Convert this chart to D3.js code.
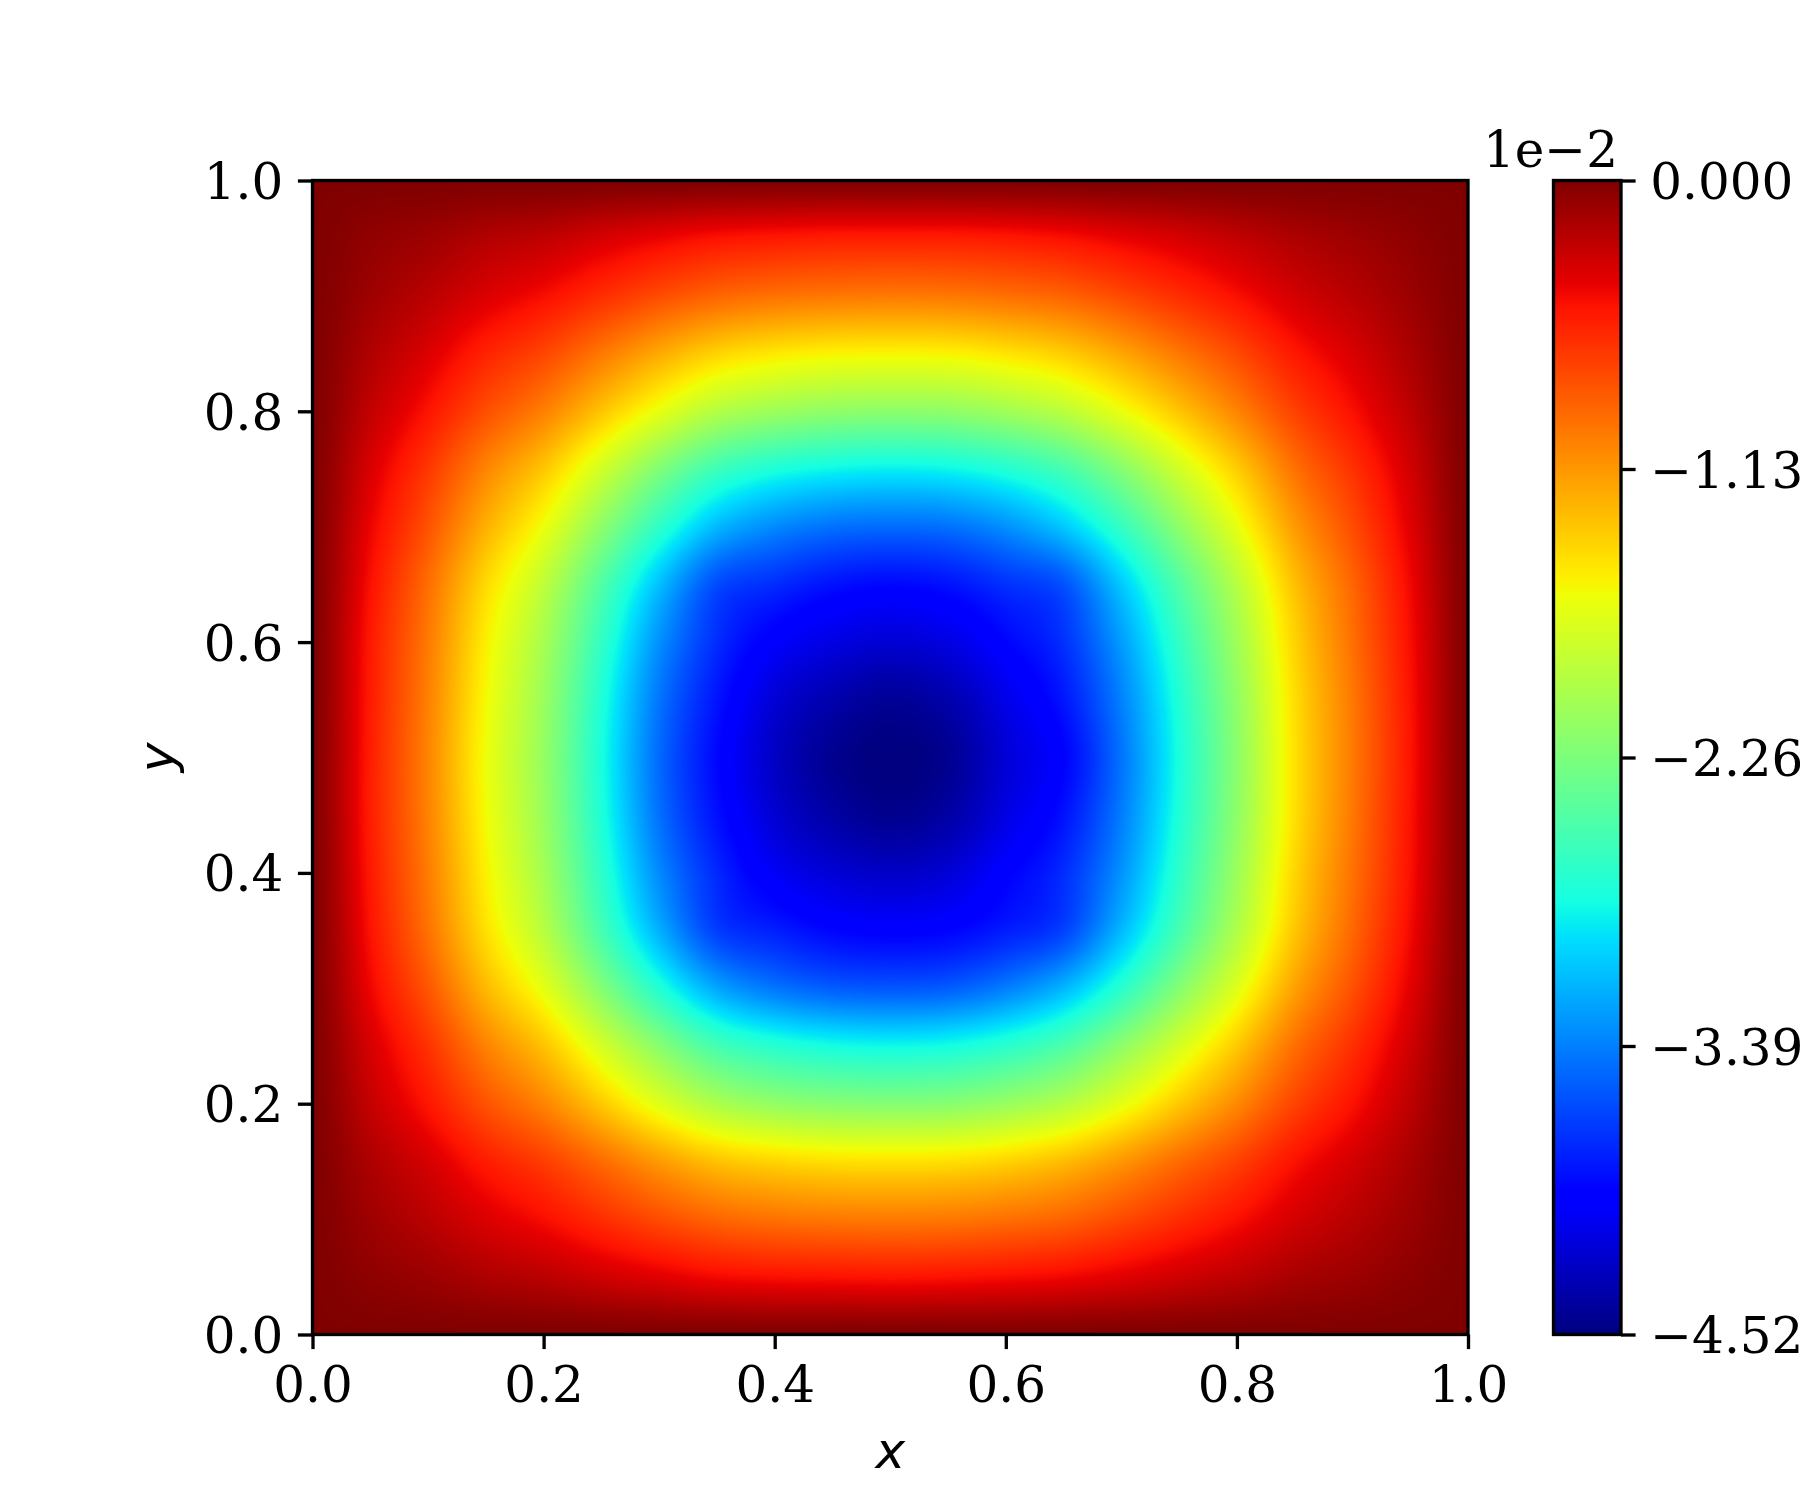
<!DOCTYPE html>
<html>
<head>
<meta charset="utf-8">
<script src="https://cdn.jsdelivr.net/npm/d3@7"></script>
<style>
html, body { margin: 0; padding: 0; background: #fff; overflow: hidden; }
</style>
</head>
<body>
<div id="chart"></div>
<script>
// ---------------- DATA (units of 1e-2) ----------------
const xGrid = [0, 0.05, 0.1, 0.15, 0.2, 0.25, 0.3, 0.35, 0.4, 0.45, 0.5, 0.55, 0.6, 0.65, 0.7, 0.75, 0.8, 0.85, 0.9, 0.95, 1.0];
const yGrid = [0, 0.05, 0.1, 0.15, 0.2, 0.25, 0.3, 0.35, 0.4, 0.45, 0.5, 0.55, 0.6, 0.65, 0.7, 0.75, 0.8, 0.85, 0.9, 0.95, 1.0];
// rows: y = 0 (bottom) ... y = 1 (top); columns: x = 0 ... 1
const zValues = [
  [0, 0, 0, 0, 0, 0, 0, 0, 0, 0, 0, 0, 0, 0, 0, 0, 0, 0, 0, 0, 0],
  [0,-0.06,-0.11,-0.18,-0.23,-0.31,-0.38,-0.45,-0.48,-0.49,-0.50,-0.49,-0.47,-0.44,-0.38,-0.31,-0.24,-0.16,-0.11,-0.05,0],
  [0,-0.12,-0.23,-0.36,-0.47,-0.62,-0.77,-0.89,-0.95,-0.98,-0.99,-0.98,-0.94,-0.88,-0.76,-0.62,-0.48,-0.33,-0.22,-0.11,0],
  [0,-0.18,-0.34,-0.54,-0.70,-0.92,-1.15,-1.34,-1.43,-1.48,-1.49,-1.48,-1.42,-1.31,-1.13,-0.92,-0.72,-0.49,-0.33,-0.16,0],
  [0,-0.27,-0.51,-0.80,-1.04,-1.37,-1.71,-1.99,-2.13,-2.19,-2.21,-2.19,-2.10,-1.95,-1.68,-1.37,-1.06,-0.73,-0.49,-0.24,0],
  [0,-0.34,-0.65,-1.03,-1.34,-1.77,-2.19,-2.56,-2.73,-2.82,-2.85,-2.82,-2.71,-2.51,-2.16,-1.77,-1.37,-0.94,-0.63,-0.31,0],
  [0,-0.43,-0.82,-1.29,-1.68,-2.21,-2.75,-3.21,-3.43,-3.54,-3.57,-3.54,-3.39,-3.14,-2.71,-2.21,-1.71,-1.18,-0.79,-0.39,0],
  [0,-0.49,-0.95,-1.48,-1.93,-2.55,-3.17,-3.68,-3.82,-3.94,-3.98,-3.95,-3.83,-3.66,-3.13,-2.55,-1.97,-1.36,-0.90,-0.45,0],
  [0,-0.52,-1.00,-1.56,-2.04,-2.69,-3.34,-3.78,-4.05,-4.18,-4.24,-4.18,-3.98,-3.76,-3.30,-2.69,-2.08,-1.43,-0.95,-0.48,0],
  [0,-0.54,-1.03,-1.61,-2.10,-2.77,-3.45,-3.89,-4.19,-4.37,-4.46,-4.37,-4.13,-3.88,-3.40,-2.77,-2.15,-1.48,-0.98,-0.49,0],
  [0,-0.54,-1.04,-1.63,-2.12,-2.80,-3.48,-3.93,-4.25,-4.45,-4.52,-4.45,-4.18,-3.96,-3.44,-2.80,-2.17,-1.49,-0.99,-0.50,0],
  [0,-0.53,-1.02,-1.60,-2.09,-2.76,-3.43,-3.87,-4.18,-4.34,-4.43,-4.34,-4.11,-3.86,-3.38,-2.76,-2.14,-1.47,-0.98,-0.49,0],
  [0,-0.52,-0.99,-1.55,-2.02,-2.66,-3.31,-3.76,-4.01,-4.13,-4.19,-4.13,-3.95,-3.74,-3.26,-2.66,-2.06,-1.42,-0.94,-0.47,0],
  [0,-0.48,-0.93,-1.45,-1.89,-2.49,-3.10,-3.62,-3.76,-3.88,-3.93,-3.88,-3.74,-3.59,-3.06,-2.49,-1.93,-1.33,-0.89,-0.44,0],
  [0,-0.42,-0.80,-1.25,-1.64,-2.16,-2.68,-3.13,-3.34,-3.45,-3.48,-3.45,-3.31,-3.06,-2.65,-2.16,-1.67,-1.15,-0.77,-0.38,0],
  [0,-0.35,-0.67,-1.04,-1.36,-1.79,-2.23,-2.60,-2.78,-2.86,-2.89,-2.86,-2.75,-2.55,-2.20,-1.79,-1.39,-0.95,-0.64,-0.32,0],
  [0,-0.26,-0.50,-0.78,-1.02,-1.35,-1.67,-1.95,-2.08,-2.15,-2.17,-2.15,-2.06,-1.91,-1.65,-1.35,-1.04,-0.72,-0.48,-0.24,0],
  [0,-0.19,-0.36,-0.57,-0.74,-0.98,-1.22,-1.42,-1.52,-1.57,-1.58,-1.57,-1.50,-1.39,-1.20,-0.98,-0.76,-0.52,-0.35,-0.17,0],
  [0,-0.12,-0.23,-0.36,-0.47,-0.62,-0.77,-0.89,-0.95,-0.98,-0.99,-0.98,-0.94,-0.88,-0.76,-0.62,-0.48,-0.33,-0.22,-0.11,0],
  [0,-0.07,-0.12,-0.20,-0.25,-0.34,-0.42,-0.49,-0.52,-0.54,-0.54,-0.54,-0.52,-0.48,-0.41,-0.34,-0.26,-0.18,-0.12,-0.06,0],
  [0, 0, 0, 0, 0, 0, 0, 0, 0, 0, 0, 0, 0, 0, 0, 0, 0, 0, 0, 0, 0]
];
const xTicks = [0, 0.2, 0.4, 0.6, 0.8, 1.0];
const yTicks = [0, 0.2, 0.4, 0.6, 0.8, 1.0];
const cbTicks = [0, -1.13, -2.26, -3.39, -4.52];
const cbOffsetText = "1e\u22122";
const zMin = -4.52, zMax = 0;
const xLabel = "x", yLabel = "y";

// ---------------- LAYOUT ----------------
const W = 1800, H = 1500;
const plot = { left: 312.5, right: 1468, top: 180.5, bottom: 1334.5 };
const cb = { left: 1553.5, right: 1621, top: 180.5, bottom: 1334.5 };
const lw = 3.33, tickLen = 14.6, tickPad = 14.6;
const serif = "'DejaVu Serif', serif";
const fs = 50;

const svg = d3.select("#chart").append("svg")
  .attr("width", W).attr("height", H)
  .attr("viewBox", `0 0 ${W} ${H}`)
  .style("display", "block");
svg.append("rect").attr("width", W).attr("height", H).attr("fill", "#fff");

const x = d3.scaleLinear().domain([0, 1]).range([plot.left, plot.right]);
const y = d3.scaleLinear().domain([0, 1]).range([plot.bottom, plot.top]);

// jet colormap (matplotlib segment data)
const jr = d3.scaleLinear().domain([0, 0.35, 0.66, 0.89, 1]).range([0, 0, 1, 1, 0.5]).clamp(true);
const jg = d3.scaleLinear().domain([0, 0.125, 0.375, 0.64, 0.91, 1]).range([0, 0, 1, 1, 0, 0]).clamp(true);
const jb = d3.scaleLinear().domain([0, 0.11, 0.34, 0.65, 1]).range([0.5, 1, 1, 0, 0]).clamp(true);
const norm = d3.scaleLinear().domain([zMin, zMax]).range([0, 1]).clamp(true);
function jetRGB(t) { return [Math.round(jr(t) * 255), Math.round(jg(t) * 255), Math.round(jb(t) * 255)]; }

const LUTN = 2048;
const lut = new Uint8ClampedArray(LUTN * 3);
for (let i = 0; i < LUTN; i++) {
  const c = jetRGB(i / (LUTN - 1));
  lut[i * 3] = c[0]; lut[i * 3 + 1] = c[1]; lut[i * 3 + 2] = c[2];
}

// ---------------- HEATMAP RASTER (smooth resampling of the grid) ----------------
const pw = Math.round(plot.right - plot.left);
const ph = Math.round(plot.bottom - plot.top);
const gx = d3.scaleLinear().domain([xGrid[0], xGrid[xGrid.length - 1]]).range([0, xGrid.length - 1]);
const gy = d3.scaleLinear().domain([yGrid[0], yGrid[yGrid.length - 1]]).range([0, yGrid.length - 1]);
const nx = xGrid.length, ny = yGrid.length;

function cubicTaps(u, n) {
  let i0 = Math.floor(u);
  if (i0 >= n - 1) i0 = n - 2;
  if (i0 < 0) i0 = 0;
  const f = u - i0;
  const f2 = f * f, f3 = f2 * f;
  const w = [(-f3 + 2 * f2 - f) / 2, (3 * f3 - 5 * f2 + 2) / 2, (-3 * f3 + 4 * f2 + f) / 2, (f3 - f2) / 2];
  const idx = [i0 - 1, i0, i0 + 1, i0 + 2].map(k => Math.max(0, Math.min(n - 1, k)));
  return { w, idx };
}

const colTaps = [];
for (let px = 0; px < pw; px++) {
  const dx = x.invert(plot.left + (px + 0.5) * (plot.right - plot.left) / pw);
  colTaps.push(cubicTaps(gx(dx), nx));
}

const canvas = document.createElement("canvas");
canvas.width = pw; canvas.height = ph;
const ctx = canvas.getContext("2d");
const img = ctx.createImageData(pw, ph);
const tmp = new Float64Array(nx);
for (let py = 0; py < ph; py++) {
  const dy = y.invert(plot.top + (py + 0.5) * (plot.bottom - plot.top) / ph);
  const rt = cubicTaps(gy(dy), ny);
  for (let j = 0; j < nx; j++) {
    tmp[j] = rt.w[0] * zValues[rt.idx[0]][j] + rt.w[1] * zValues[rt.idx[1]][j]
           + rt.w[2] * zValues[rt.idx[2]][j] + rt.w[3] * zValues[rt.idx[3]][j];
  }
  for (let px = 0; px < pw; px++) {
    const ct = colTaps[px];
    const v = ct.w[0] * tmp[ct.idx[0]] + ct.w[1] * tmp[ct.idx[1]] + ct.w[2] * tmp[ct.idx[2]] + ct.w[3] * tmp[ct.idx[3]];
    const li = Math.round(norm(v) * (LUTN - 1));
    const o = (py * pw + px) * 4;
    img.data[o] = lut[li * 3]; img.data[o + 1] = lut[li * 3 + 1]; img.data[o + 2] = lut[li * 3 + 2]; img.data[o + 3] = 255;
  }
}
ctx.putImageData(img, 0, 0);

svg.append("image")
  .attr("x", plot.left).attr("y", plot.top)
  .attr("width", plot.right - plot.left).attr("height", plot.bottom - plot.top)
  .attr("preserveAspectRatio", "none")
  .attr("href", canvas.toDataURL());

// ---------------- AXES ----------------
function styleAxis(g) {
  g.select(".domain").remove();
  g.selectAll(".tick line").attr("stroke", "#000").attr("stroke-width", lw);
  g.selectAll(".tick text").attr("fill", "#000")
    .style("font-family", serif).style("font-size", fs + "px");
}

const xAxis = svg.append("g").attr("transform", `translate(0,${plot.bottom})`)
  .call(d3.axisBottom(x).tickValues(xTicks).tickFormat(d3.format(".1f"))
    .tickSize(tickLen).tickPadding(tickPad));
styleAxis(xAxis);
xAxis.selectAll(".tick text").attr("dy", "0.76em");

const yAxis = svg.append("g").attr("transform", `translate(${plot.left},0)`)
  .call(d3.axisLeft(y).tickValues(yTicks).tickFormat(d3.format(".1f"))
    .tickSize(tickLen).tickPadding(tickPad));
styleAxis(yAxis);
yAxis.selectAll(".tick text").attr("dy", "0.36em");

svg.append("rect")
  .attr("x", plot.left).attr("y", plot.top)
  .attr("width", plot.right - plot.left).attr("height", plot.bottom - plot.top)
  .attr("fill", "none").attr("stroke", "#000").attr("stroke-width", lw);

svg.append("text").text(xLabel)
  .attr("x", (plot.left + plot.right) / 2).attr("y", 1468)
  .attr("text-anchor", "middle")
  .style("font-family", "'DejaVu Sans', sans-serif").style("font-style", "italic")
  .style("font-size", fs + "px");
svg.append("text").text(yLabel)
  .attr("transform", `translate(174,${(plot.top + plot.bottom) / 2}) rotate(-90)`)
  .attr("text-anchor", "middle")
  .style("font-family", "'DejaVu Sans', sans-serif").style("font-style", "italic")
  .style("font-size", fs + "px");

// ---------------- COLORBAR ----------------
const cbY = d3.scaleLinear().domain([zMin, zMax]).range([cb.bottom, cb.top]);
const defs = svg.append("defs");
const grad = defs.append("linearGradient").attr("id", "jetGrad")
  .attr("x1", 0).attr("y1", 1).attr("x2", 0).attr("y2", 0);
d3.range(0, 1.00001, 0.005).forEach(t => {
  const c = jetRGB(t);
  grad.append("stop").attr("offset", t).attr("stop-color", `rgb(${c[0]},${c[1]},${c[2]})`);
});
svg.append("rect")
  .attr("x", cb.left).attr("y", cb.top)
  .attr("width", cb.right - cb.left).attr("height", cb.bottom - cb.top)
  .attr("fill", "url(#jetGrad)");

const cbAxis = svg.append("g").attr("transform", `translate(${cb.right},0)`)
  .call(d3.axisRight(cbY).tickValues(cbTicks)
    .tickFormat(d3.format(".3f"))
    .tickSize(tickLen).tickPadding(tickPad));
styleAxis(cbAxis);
cbAxis.selectAll(".tick text").attr("dy", "0.36em");

svg.append("rect")
  .attr("x", cb.left).attr("y", cb.top)
  .attr("width", cb.right - cb.left).attr("height", cb.bottom - cb.top)
  .attr("fill", "none").attr("stroke", "#000").attr("stroke-width", lw);

svg.append("text").text(cbOffsetText)
  .attr("x", 1618).attr("y", 167)
  .attr("text-anchor", "end")
  .style("font-family", serif).style("font-size", fs + "px");
</script>
</body>
</html>
